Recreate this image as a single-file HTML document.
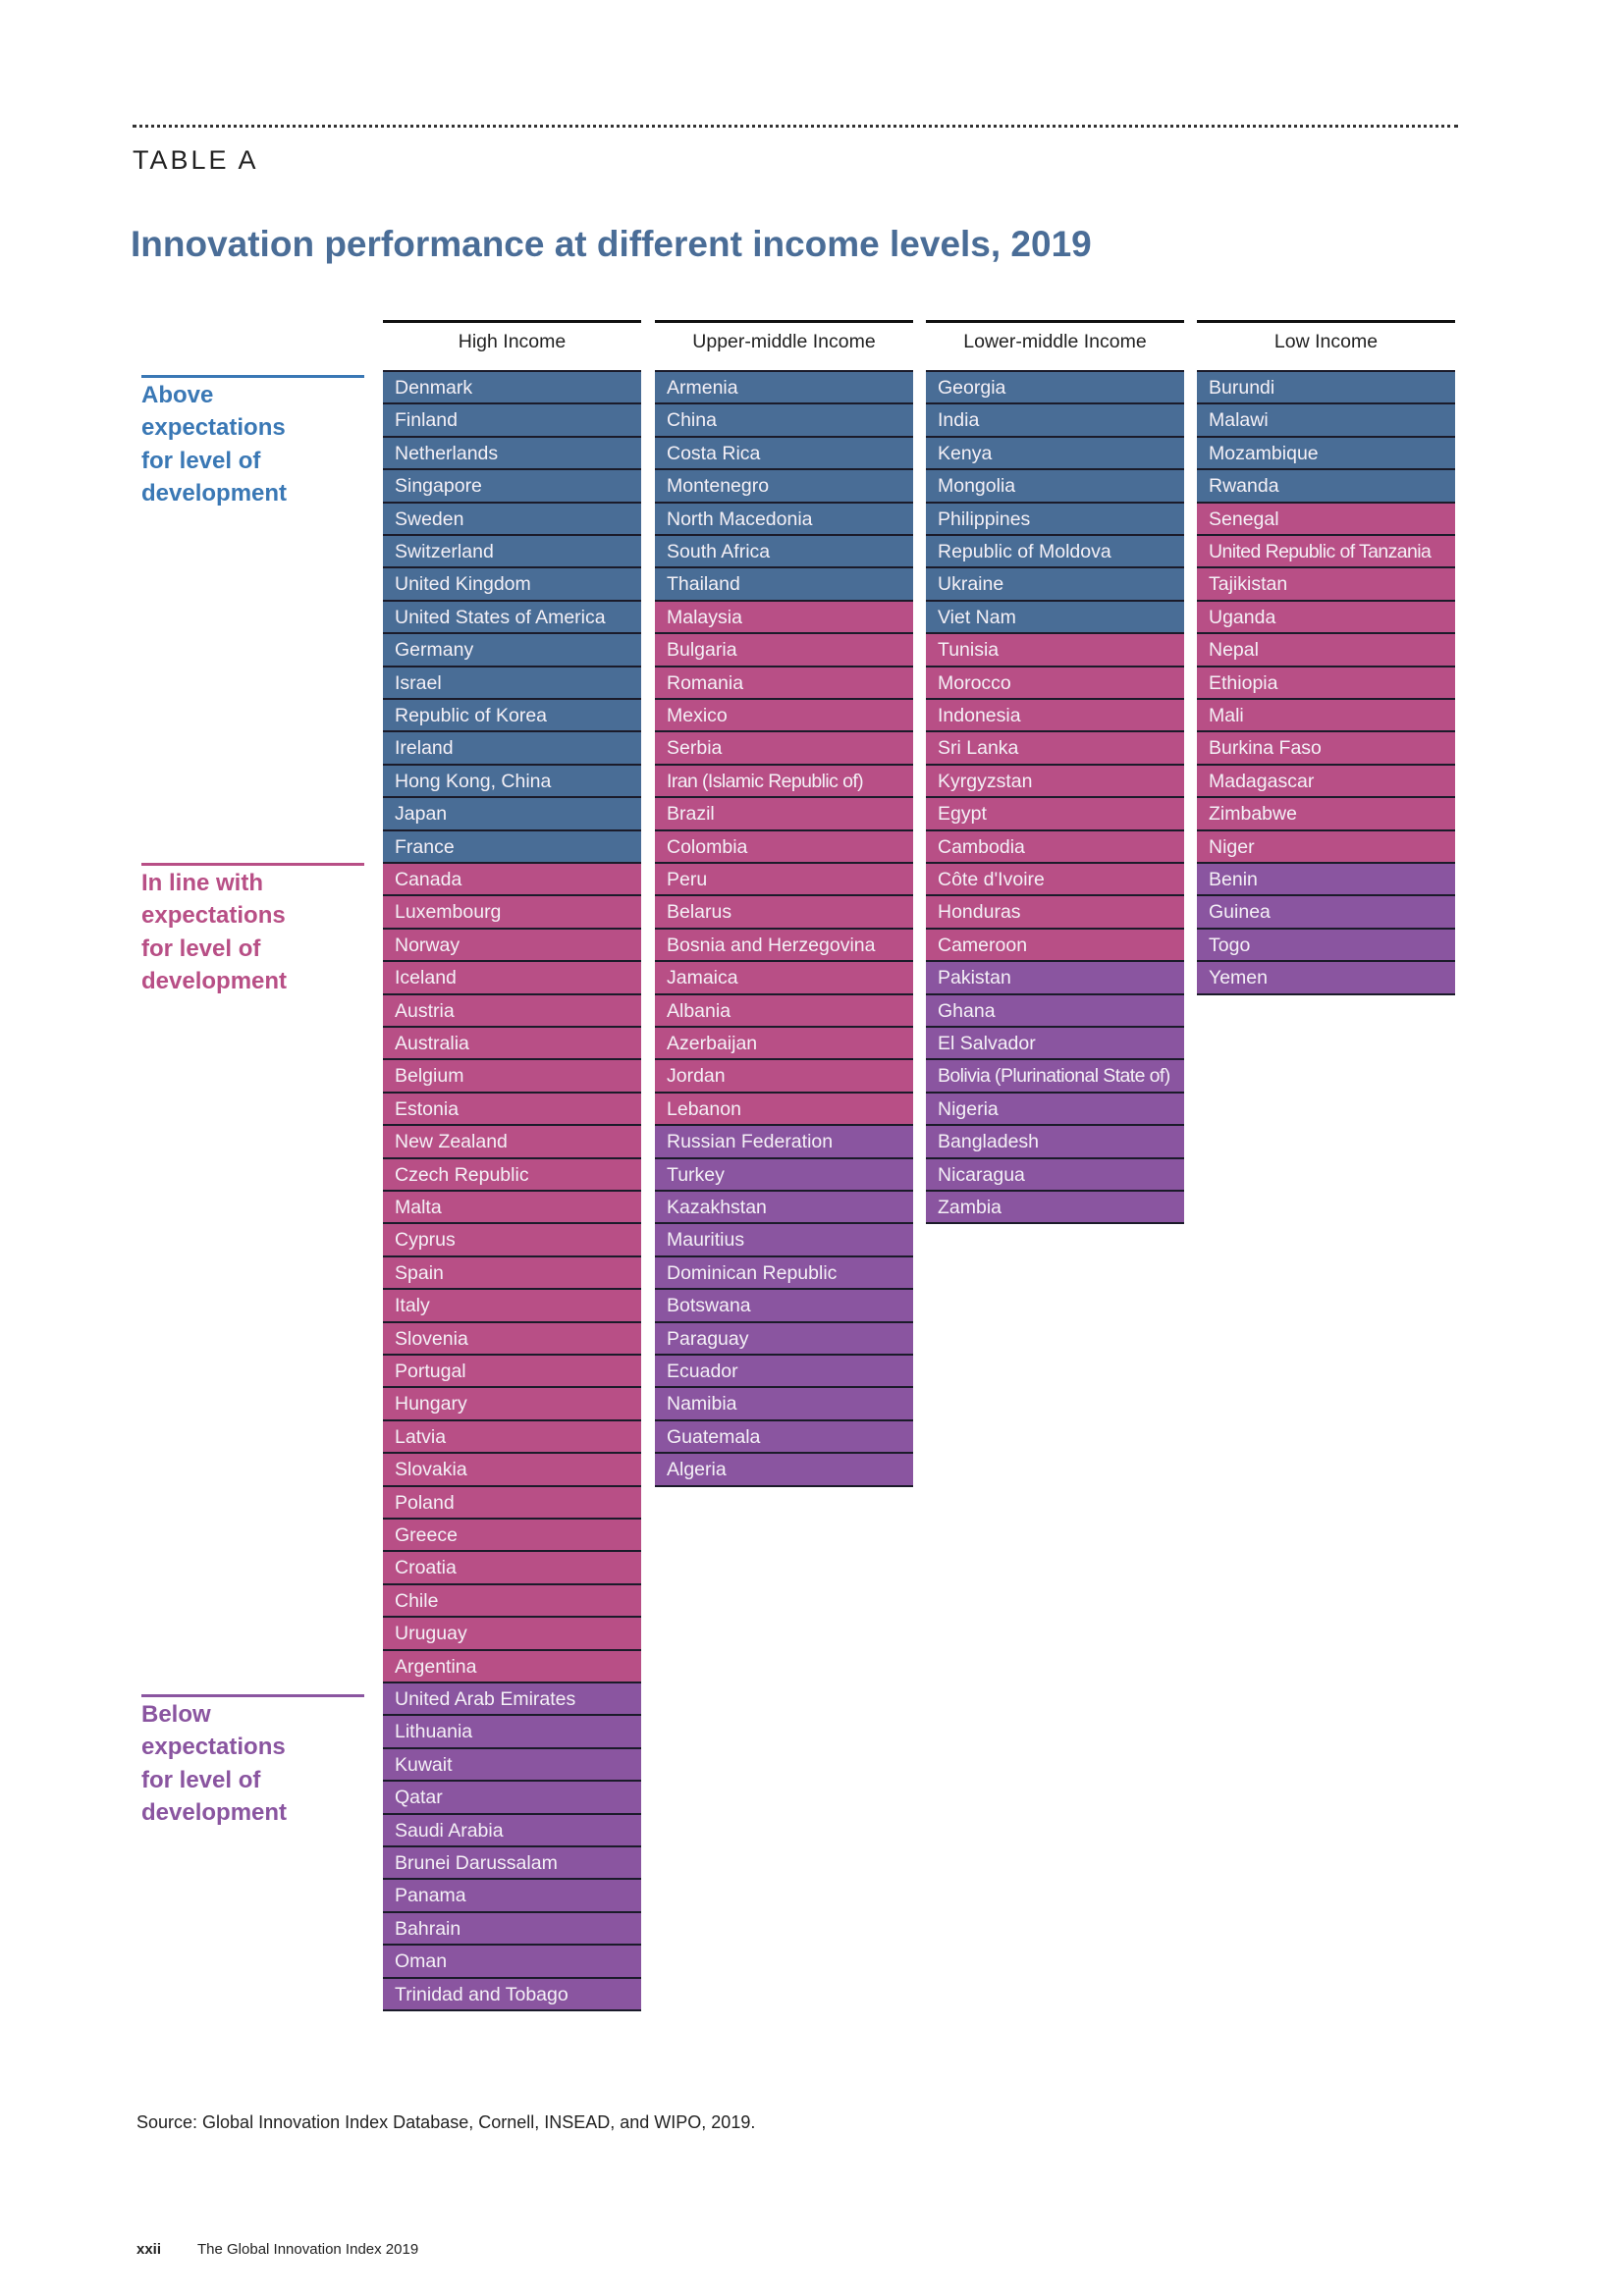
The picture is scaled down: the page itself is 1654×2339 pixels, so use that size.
<!DOCTYPE html>
<html><head><meta charset="utf-8">
<style>
body{margin:0;background:#fff;font-family:"Liberation Sans",sans-serif;}
#page{position:relative;width:1654px;height:2339px;overflow:hidden;background:#fff;}
.abs{position:absolute;}
.cell{position:absolute;box-sizing:border-box;color:#f4f0f6;font-size:19.5px;padding-left:12px;line-height:32px;white-space:nowrap;border-bottom:2px solid #1b1b2a;overflow:hidden;}
.hdr{position:absolute;border-top:3px solid #111;text-align:center;font-size:19.5px;color:#222;padding-top:8px;}
.lbl{position:absolute;left:144px;width:227px;font-weight:bold;font-size:24px;line-height:33.4px;padding-top:1px;}
</style></head><body>
<div id="page">
<div class="abs" style="left:135px;top:127px;width:1350px;border-top:3px dotted #333;"></div>
<div class="abs" style="left:135px;top:148px;font-size:27px;letter-spacing:3px;color:#222;">TABLE A</div>
<div class="abs" style="left:133px;top:228px;font-size:37px;font-weight:bold;color:#4a6d97;">Innovation performance at different income levels, 2019</div>

<div class="lbl" style="top:382px;border-top:3px solid #3a78b5;color:#3a78b5;">Above<br>expectations<br>for level of<br>development</div>
<div class="lbl" style="top:879px;border-top:3px solid #b84f86;color:#b84f86;">In line with<br>expectations<br>for level of<br>development</div>
<div class="lbl" style="top:1726px;border-top:3px solid #8a55a0;color:#8a55a0;">Below<br>expectations<br>for level of<br>development</div>

<div class="abs" style="left:139px;top:2152px;font-size:18px;color:#222;">Source: Global Innovation Index Database, Cornell, INSEAD, and WIPO, 2019.</div>
<div class="abs" style="left:139px;top:2283px;font-size:15px;font-weight:bold;color:#222;">xxii</div>
<div class="abs" style="left:201px;top:2283px;font-size:15px;color:#222;">The Global Innovation Index 2019</div>
</div>
<script>
const columnTitles=["High Income","Upper-middle Income","Lower-middle Income","Low Income"];
const highIncome=["Denmark","Finland","Netherlands","Singapore","Sweden","Switzerland","United Kingdom","United States of America","Germany","Israel","Republic of Korea","Ireland","Hong Kong, China","Japan","France","Canada","Luxembourg","Norway","Iceland","Austria","Australia","Belgium","Estonia","New Zealand","Czech Republic","Malta","Cyprus","Spain","Italy","Slovenia","Portugal","Hungary","Latvia","Slovakia","Poland","Greece","Croatia","Chile","Uruguay","Argentina","United Arab Emirates","Lithuania","Kuwait","Qatar","Saudi Arabia","Brunei Darussalam","Panama","Bahrain","Oman","Trinidad and Tobago"];
const upperMiddle=["Armenia","China","Costa Rica","Montenegro","North Macedonia","South Africa","Thailand","Malaysia","Bulgaria","Romania","Mexico","Serbia","Iran (Islamic Republic of)","Brazil","Colombia","Peru","Belarus","Bosnia and Herzegovina","Jamaica","Albania","Azerbaijan","Jordan","Lebanon","Russian Federation","Turkey","Kazakhstan","Mauritius","Dominican Republic","Botswana","Paraguay","Ecuador","Namibia","Guatemala","Algeria"];
const lowerMiddle=["Georgia","India","Kenya","Mongolia","Philippines","Republic of Moldova","Ukraine","Viet Nam","Tunisia","Morocco","Indonesia","Sri Lanka","Kyrgyzstan","Egypt","Cambodia","Côte d'Ivoire","Honduras","Cameroon","Pakistan","Ghana","El Salvador","Bolivia (Plurinational State of)","Nigeria","Bangladesh","Nicaragua","Zambia"];
const lowIncome=["Burundi","Malawi","Mozambique","Rwanda","Senegal","United Republic of Tanzania","Tajikistan","Uganda","Nepal","Ethiopia","Mali","Burkina Faso","Madagascar","Zimbabwe","Niger","Benin","Guinea","Togo","Yemen"];
// counts per group: [above, in line, below]
const highCounts=[15,25,10];
const upperCounts=[7,16,11];
const lowerCounts=[8,10,8];
const lowCounts=[4,11,4];

const cols=[highIncome,upperMiddle,lowerMiddle,lowIncome];
const counts=[highCounts,upperCounts,lowerCounts,lowCounts];
const colX=[390,667,943,1219];
const colW=263, top0=379, rowH=33.4;
const colors=["#496d96","#b84f86","#8a55a0"];
const page=document.getElementById('page');
cols.forEach((list,ci)=>{
  const h=document.createElement('div');
  h.className='hdr';
  
  
  h.style.left=colX[ci]+'px';h.style.top='326px';h.style.width=colW+'px';
  h.textContent=columnTitles[ci];
  page.appendChild(h);
  const tb=document.createElement('div');
  tb.className='abs';
  
  
  tb.style.cssText='left:'+colX[ci]+'px;top:'+(top0-2)+'px;width:'+colW+'px;border-top:2px solid #1b1b2a;';
  page.appendChild(tb);
  list.forEach((name,ri)=>{
    let g=0,acc=counts[ci][0];
    while(ri>=acc&&g<2){g++;acc+=counts[ci][g];}
    const c=document.createElement('div');
    c.className='cell';
    
    
    const y=top0+ri*rowH;
    c.style.left=colX[ci]+'px';
    c.style.top=y+'px';
    c.style.width=colW+'px';
    c.style.height=rowH+'px';
    c.style.background=colors[g];
    if(name.length>24)c.style.letterSpacing='-0.6px';
    c.textContent=name;
    page.appendChild(c);
  });
});
</script>
</body></html>
